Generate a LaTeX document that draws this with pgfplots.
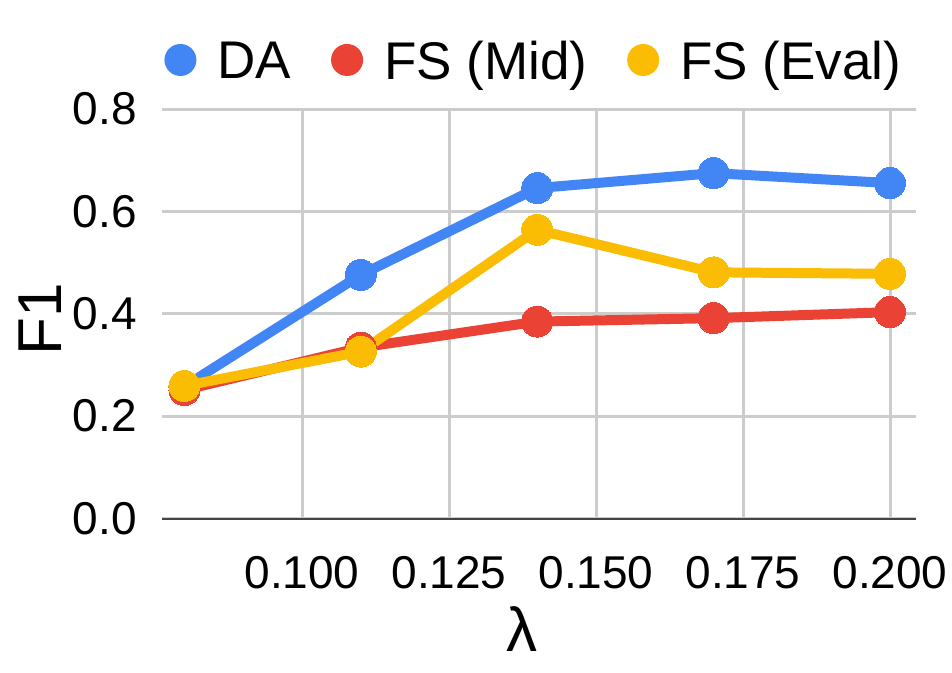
\documentclass[border=0pt]{standalone}
\usepackage{fontspec}
\setmainfont{Liberation Sans}
\usepackage{pgfplots}
\pgfplotsset{compat=1.18}
\definecolor{gblue}{HTML}{4285F4}
\definecolor{gred}{HTML}{EA4335}
\definecolor{gyellow}{HTML}{FBBC04}
\definecolor{ggrid}{HTML}{CCCCCC}
\definecolor{gaxis}{HTML}{444444}
\begin{document}
\begin{tikzpicture}
\useasboundingbox (0,0) rectangle (476pt,-336.5pt);
\begin{axis}[
  at={(81pt,-259.25pt)}, anchor=south west,
  scale only axis, width=377pt, height=204.75pt,
  xmin=0.07619, xmax=0.20442, ymin=0, ymax=0.8,
  xtick={0.100,0.125,0.150,0.175,0.200},
  ytick={0,0.2,0.4,0.6,0.8},
  /pgf/number format/assume math mode=true,
  xticklabel style={/pgf/number format/fixed, /pgf/number format/precision=3, /pgf/number format/fixed zerofill,
     anchor=center, yshift=-27.25pt, inner sep=0pt, font=\fontsize{23}{27}\selectfont},
  yticklabel style={/pgf/number format/fixed, /pgf/number format/precision=1, /pgf/number format/fixed zerofill,
     anchor=east, xshift=-12.5pt, inner sep=0pt, font=\fontsize{23}{27}\selectfont},
  scaled ticks=false,
  major tick length=0pt,
  grid=major,
  major grid style={color=ggrid, line width=1.5pt},
  axis x line*=bottom, axis y line*=left,
  x axis line style={-, draw=gaxis, line width=1pt},
  y axis line style={draw=none},
  every axis y label/.style={at={(axis description cs:-0.1611,0.4872)}, rotate=90, anchor=center, inner sep=0pt, text depth=0pt, font=\fontsize{31}{36}\selectfont},
  every axis x label/.style={at={(axis description cs:0.4781,-0.2711)}, anchor=center, inner sep=0pt, font=\fontsize{31}{36}\selectfont},
  ylabel={F1}, xlabel={λ},
  clip=false,
  legend columns=3,
  legend style={at={(axis description cs:0.0027,1.1197)}, anchor=west, draw=none, fill=none,
     inner xsep=0pt, inner ysep=0pt, column sep=0pt,
     nodes={inner sep=0pt, text depth=0pt},
     font=\fontsize{26.5}{30}\selectfont,
     /tikz/every even column/.append style={column sep=20pt}},
  legend image code/.code={\path[fill, draw=none, line width=0pt] (8pt,0pt) circle (8pt); \path (24pt,0pt);},
]
\addplot[color=gblue, line width=5pt, mark=*, mark size=7.75pt, mark options={line width=0pt}]
  coordinates {(0.08,0.258) (0.11,0.476) (0.14,0.6455) (0.17,0.6747) (0.20,0.6552)};
\addlegendentry{DA}
\addplot[color=gred, line width=5pt, mark=*, mark size=7.75pt, mark options={line width=0pt}]
  coordinates {(0.08,0.251) (0.11,0.334) (0.14,0.3847) (0.17,0.3914) (0.20,0.4032)};
\addlegendentry{FS (Mid)}
\addplot[color=gyellow, line width=5pt, mark=*, mark size=7.75pt, mark options={line width=0pt}]
  coordinates {(0.08,0.259) (0.11,0.326) (0.14,0.5640) (0.17,0.4809) (0.20,0.4780)};
\addlegendentry{FS (Eval)}
\end{axis}
\end{tikzpicture}
\end{document}
